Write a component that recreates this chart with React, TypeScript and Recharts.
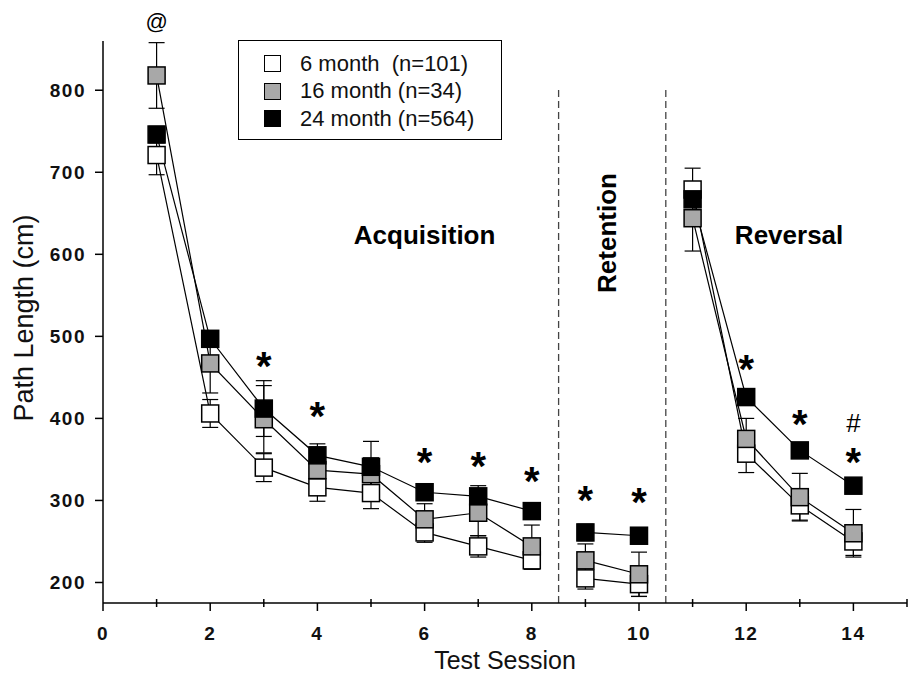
import React from "react";
import {
  LineChart, Line, XAxis, YAxis, ErrorBar, ReferenceLine, ReferenceDot,
} from "recharts";

// path length per test session
const sessions = [1, 2, 3, 4, 5, 6, 7, 8, 9, 10, 11, 12, 13, 14];
const phases = [1, 1, 1, 1, 1, 1, 1, 1, 2, 2, 3, 3, 3, 3];
const m6 = [721, 406, 340, 316, 309, 261, 244, 227, 205, 198, 679, 357, 294, 250];
const m16 = [818, 467, 399, 337, 332, 277, 285, 244, 227, 210, 644, 375, 304, 260];
const m24 = [746, 497, 412, 355, 341, 310, 305, 287, 261, 257, 667, 426, 361, 318];
const err6 = [24, 17, 17, 17, 19, 12, 13, 11, 13, 15, 26, 23, 18, 17];
const err16 = [40, 36, 41, 20, 20, 19, 28, 26, 20, 27, 40, 25, 29, 29];
const err24 = [10, 10, 34, 14, 31, 8, 13, 8, 10, 8, 16, 9, 8, 8];

const groups = [
  { key: "m6", err: "e6", label: "6 month  (n=101)", fill: "#ffffff" },
  { key: "m16", err: "e16", label: "16 month (n=34)", fill: "#a8a8a8" },
  { key: "m24", err: "e24", label: "24 month (n=564)", fill: "#000000" },
];

const xTicks = [0, 1, 2, 3, 4, 5, 6, 7, 8, 9, 10, 11, 12, 13, 14, 15];
const yTicks = [200, 300, 400, 500, 600, 700, 800];
const phaseBounds = [8.5, 10.5];

const starSessions = [3, 4, 6, 7, 8, 9, 10, 12, 13, 14];
const starValues = [474, 413, 357, 352, 333, 310, 308, 470, 403, 357];
const marks = [
  { s: 1, v: 884, t: "@", size: 22 },
  { s: 14, v: 394, t: "#", size: 26 },
];
const regions = [
  { s: 6.0, v: 612, t: "Acquisition", rotate: false },
  { s: 9.38, v: 626, t: "Retention", rotate: true },
  { s: 12.8, v: 612, t: "Reversal", rotate: false },
];

const FONT = "'Liberation Sans', Arial, Helvetica, sans-serif";

// break the line between phases with an empty row
const rows: any[] = [];
sessions.forEach((s, i) => {
  if (i > 0 && phases[i] !== phases[i - 1]) rows.push({ session: s - 0.5 });
  rows.push({
    session: s,
    m6: m6[i], m16: m16[i], m24: m24[i],
    e6: err6[i], e16: err16[i], e24: err24[i],
  });
});

function squareDot(fill: string) {
  return (p: any) => {
    if (p.cy == null || p.value == null) return <g key={p.key ?? p.index} />;
    return (
      <rect
        key={p.key ?? p.index}
        x={p.cx - 8.5}
        y={p.cy - 8.5}
        width={17}
        height={17}
        fill={fill}
        stroke="#000"
        strokeWidth={1.5}
      />
    );
  };
}

function XTick({ x, y, payload }: any) {
  const v = payload.value;
  const major = v % 2 === 0 && v < 15;
  return (
    <g>
      {major ? (
        <line x1={x} y1={y} x2={x} y2={y + 8} stroke="#000" strokeWidth={1.5} />
      ) : (
        <line x1={x} y1={y - 4} x2={x} y2={y + 4} stroke="#000" strokeWidth={1.5} />
      )}
      {major && (
        <text x={x} y={y + 37} textAnchor="middle" fontSize={19} fontWeight="bold" letterSpacing={1.5} fontFamily={FONT} fill="#111">
          {v}
        </text>
      )}
    </g>
  );
}

export default function App() {
  return (
    <div style={{ position: "absolute", left: 0, top: 0, width: 908, height: 675, background: "#fff" }}>
      <LineChart width={908} height={675} data={rows} margin={{ top: 41, right: 1, bottom: 0, left: 0 }}>
        <XAxis
          type="number"
          dataKey="session"
          domain={[0, 15]}
          ticks={xTicks}
          interval={0}
          tickLine={false}
          tickSize={0}
          tickMargin={0}
          height={72}
          tick={<XTick />}
          axisLine={{ stroke: "#000", strokeWidth: 1.5 }}
          label={{
            content: ({ viewBox }: any) => (
              <text x={viewBox.x + viewBox.width / 2} y={viewBox.y + 66} textAnchor="middle" fontSize={25} fontFamily={FONT} fill="#111">
                Test Session
              </text>
            ),
          }}
        />
        <YAxis
          type="number"
          domain={[175, 860]}
          ticks={yTicks}
          interval={0}
          width={103}
          tickSize={8}
          tickMargin={9}
          tickLine={{ stroke: "#000", strokeWidth: 1.5 }}
          axisLine={{ stroke: "#000", strokeWidth: 1.5 }}
          tick={{ fontSize: 19, fontWeight: "bold", fill: "#111", fontFamily: FONT, letterSpacing: 1.5 }}
          label={{
            content: ({ viewBox }: any) => {
              const cx = viewBox.x + 33;
              const cy = viewBox.y + viewBox.height / 2 - 4;
              return (
                <text x={cx} y={cy} transform={`rotate(-90 ${cx} ${cy})`} textAnchor="middle" fontSize={27} fontFamily={FONT} fill="#111">
                  Path Length (cm)
                </text>
              );
            },
          }}
        />
        {phaseBounds.map((b) => (
          <ReferenceLine
            key={b}
            segment={[{ x: b, y: 175 }, { x: b, y: 805 }]}
            stroke="#444"
            strokeWidth={1.3}
            strokeDasharray="7 4"
            ifOverflow="visible"
          />
        ))}
        {groups.map((g) => (
          <Line
            key={g.key}
            dataKey={g.key}
            stroke="#000"
            strokeWidth={1.2}
            dot={squareDot(g.fill)}
            activeDot={false}
            isAnimationActive={false}
            connectNulls={false}
          >
            <ErrorBar dataKey={g.err} direction="y" width={8} stroke="#000" strokeWidth={1.2} isAnimationActive={false} />
          </Line>
        ))}
        {starSessions.map((s, i) => (
          <ReferenceDot
            key={"star" + s}
            x={s}
            y={starValues[i]}
            r={0}
            ifOverflow="visible"
            shape={(p: any) => (
              <text x={p.cx} y={p.cy + 22} textAnchor="middle" fontSize={40} fontWeight="bold" fontFamily={FONT} fill="#000">
                *
              </text>
            )}
          />
        ))}
        {marks.map((m) => (
          <ReferenceDot
            key={m.t}
            x={m.s}
            y={m.v}
            r={0}
            ifOverflow="visible"
            shape={(p: any) => (
              <text x={p.cx} y={p.cy + m.size * 0.33} textAnchor="middle" fontSize={m.size} fontFamily={FONT} fill="#000">
                {m.t}
              </text>
            )}
          />
        ))}
        {regions.map((r) => (
          <ReferenceDot
            key={r.t}
            x={r.s}
            y={r.v}
            r={0}
            ifOverflow="visible"
            shape={(p: any) =>
              r.rotate ? (
                <text x={p.cx + 10} y={p.cy} transform={`rotate(-90 ${p.cx + 10} ${p.cy})`} textAnchor="middle" fontSize={26} fontWeight="bold" fontFamily={FONT} fill="#000">
                  {r.t}
                </text>
              ) : (
                <text x={p.cx} y={p.cy} textAnchor="middle" fontSize={26} fontWeight="bold" fontFamily={FONT} fill="#000">
                  {r.t}
                </text>
              )
            }
          />
        ))}
      </LineChart>
      <div
        style={{
          position: "absolute", left: 238, top: 40, width: 264, height: 100,
          border: "1.5px solid #000", fontFamily: FONT, fontSize: 22, color: "#111",
          paddingTop: 9, boxSizing: "border-box",
        }}
      >
        {groups.map((g) => (
          <div key={g.key} style={{ display: "flex", alignItems: "center", height: 27.5 }}>
            <span style={{ display: "inline-block", width: 17, height: 17, marginLeft: 25, marginRight: 19, background: g.fill, border: "1.5px solid #000", boxSizing: "border-box" }} />
            <span style={{ whiteSpace: "pre" }}>{g.label}</span>
          </div>
        ))}
      </div>
    </div>
  );
}
